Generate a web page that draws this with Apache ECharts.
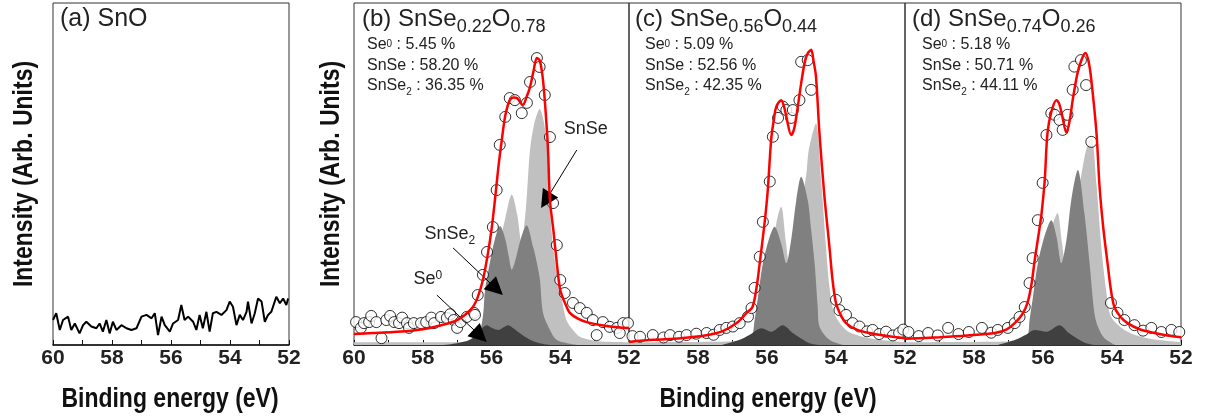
<!DOCTYPE html>
<html>
<head>
<meta charset="utf-8">
<script src="https://cdn.jsdelivr.net/npm/echarts@6/dist/echarts.min.js"></script>
<style>
  html, body { margin: 0; background: #fff; }
  #main { width: 1205px; height: 419px; }
</style>
</head>
<body>
<div id="main"></div>
<script>
// binding energy (eV), intensity (arb. units, 0..100 frame)
const snoLine = [[60,7.3],[59.89,9.3],[59.77,4.4],[59.66,7.3],[59.49,8.3],[59.38,4.4],[59.26,6.3],[59.1,3.4],[58.98,5.8],[58.87,6.8],[58.7,5.4],[58.53,4.9],[58.42,6.3],[58.31,3.9],[58.19,7.3],[58.08,3.4],[57.97,6.8],[57.85,4.4],[57.68,5.8],[57.51,4.9],[57.34,4.4],[57.17,4.9],[57.0,8.3],[56.83,8.8],[56.66,7.8],[56.55,9.3],[56.44,2.9],[56.32,8.3],[56.21,5.8],[56.04,3.9],[55.93,6.3],[55.76,7.3],[55.65,11.7],[55.54,7.3],[55.42,8.3],[55.25,6.8],[55.14,4.4],[55.03,8.8],[54.92,4.9],[54.8,9.7],[54.69,3.9],[54.58,9.3],[54.46,9.7],[54.29,8.8],[54.12,10.2],[54.01,12.7],[53.9,11.2],[53.78,5.8],[53.67,8.8],[53.56,7.3],[53.44,9.7],[53.39,12.7],[53.27,6.3],[53.16,9.3],[53.05,13.6],[52.93,12.7],[52.82,6.8],[52.71,8.8],[52.6,9.7],[52.43,14.1],[52.31,12.2],[52.2,13.6],[52.09,11.7],[52.03,13.6]];

// (b) SnSe0.22O0.78
const bData = [[59.94,6.7],[59.8,5.0],[59.71,6.4],[59.56,6.7],[59.5,8.5],[59.35,6.7],[59.2,2.0],[59.06,7.3],[58.95,8.5],[58.83,6.7],[58.69,6.4],[58.6,8.0],[58.46,6.4],[58.4,5.0],[58.26,6.4],[58.05,6.4],[57.9,6.7],[57.75,8.0],[57.67,6.4],[57.47,8.2],[57.3,7.9],[57.2,9.0],[57.1,7.3],[57.0,5.0],[56.9,6.7],[56.72,8.2],[56.51,9.4],[56.48,8.8],[56.4,14.6],[56.25,20.5],[56.13,27.2],[55.96,34.5],[55.85,45.3],[55.76,58.5],[55.6,66.7],[55.47,72.2],[55.32,71.6],[55.12,67.8],[54.97,70.8],[54.88,76.9],[54.68,83.9],[54.6,81.3],[54.45,73.1],[54.3,60.8],[54.21,41.5],[54.1,29.2],[54.0,19],[53.87,15.2],[53.63,12.3],[53.43,10.8],[53.23,9.4],[53.05,7.3],[52.94,2.9],[52.76,6.7],[52.56,5.3],[52.35,5.0],[52.27,3.5],[52.17,6.4],[52.03,6.4]];
const bFit = [[60,3.2],[59.45,3.5],[58.5,4.0],[57.8,5.0],[57.3,6.2],[57.0,7.3],[56.75,9.0],[56.54,11.1],[56.4,14],[56.25,19],[56.1,27],[55.99,34.5],[55.9,42.4],[55.8,52],[55.7,60],[55.6,67],[55.47,71.6],[55.36,72.4],[55.26,72.2],[55.09,70.2],[54.98,72.5],[54.88,75.4],[54.78,80],[54.68,83.9],[54.6,83.3],[54.52,79],[54.45,71.6],[54.36,57.9],[54.3,42.4],[54.2,33.6],[54.1,24],[54.0,16.1],[53.85,12],[53.72,9.4],[53.5,7.8],[53.23,6.7],[52.7,5.6],[52.06,5.0],[52,5.0]];
const bSnSe = [[60,0.8],[57.0,0.8],[56.6,1],[56.3,2],[56.1,6],[55.9,18],[55.75,30],[55.6,37],[55.41,44],[55.25,38],[55.13,30],[55.0,40],[54.88,57],[54.75,65],[54.6,69],[54.4,60],[54.3,40],[54.21,29],[54.1,21],[54.0,16],[53.82,7.3],[53.6,4],[53.43,2.4],[53.14,1.5],[52.8,1],[52,0.8]];
const bSnSe2 = [[56.7,0],[56.45,1.5],[56.34,3.5],[56.24,9.3],[56.19,16],[56.05,24],[55.9,31],[55.75,34.8],[55.6,31],[55.5,26],[55.41,22],[55.3,25],[55.15,31],[54.98,35],[54.79,28.7],[54.68,24],[54.59,19],[54.5,9.3],[54.3,4.4],[54.11,1.5],[53.8,0.5],[53.5,0]];
const bSe0 = [[57.4,0],[57.0,0.5],[56.63,1.5],[56.4,3.5],[56.14,5.8],[55.95,4.8],[55.8,4.4],[55.65,5.2],[55.51,5.8],[55.35,4.8],[55.17,3.4],[54.88,1.5],[54.6,0.5],[54.3,0]];

// (c) SnSe0.56O0.44
const cData = [[59.9,2.6],[59.68,2.4],[59.31,2.9],[59.0,2.2],[58.81,2.9],[58.55,2.4],[58.33,2.9],[58.05,3.3],[57.75,3.5],[57.55,3.0],[57.37,4.4],[57.18,5.0],[56.99,5.4],[56.79,6.4],[56.55,8.3],[56.45,10.8],[56.36,16.7],[56.21,25.8],[56.12,36.0],[55.92,47.8],[55.83,60.9],[55.68,66.4],[55.54,69.7],[55.44,68.7],[55.3,66.4],[55.25,68.7],[55.06,71.6],[55.01,82.8],[54.82,83.3],[54.72,74.6],[54.0,13.2],[53.9,10.2],[53.71,8.8],[53.52,6.4],[53.32,5.4],[53.1,4.0],[52.94,4.4],[52.75,3.2],[52.55,3.9],[52.35,2.8],[52.17,3.5],[52.05,4.5]];
const cFit = [[60,0.9],[59.3,1.5],[58.5,2.0],[57.8,2.8],[57.3,4.0],[56.88,6.4],[56.59,9.4],[56.42,11.1],[56.3,17],[56.21,24],[56.07,35.7],[55.98,45],[55.88,60],[55.8,66],[55.73,69.7],[55.59,71.6],[55.5,69.5],[55.44,66.8],[55.3,61.4],[55.22,63],[55.15,66.8],[55.01,76.5],[54.9,83],[54.82,85.3],[54.72,86.3],[54.65,83],[54.58,78.5],[54.48,62],[54.34,44],[54.19,28.7],[54.1,19],[54.0,12.3],[53.85,8.5],[53.71,6.4],[53.4,4.5],[53.03,3.5],[52.5,2.6],[52,2.0]];
const cSnSe = [[60,0.8],[57.0,1],[56.5,1.5],[56.2,4],[56.0,12],[55.85,25],[55.73,35.6],[55.59,40.4],[55.45,30],[55.35,24],[55.2,27],[55.05,38],[54.86,50],[54.79,57],[54.58,64.8],[54.43,48.2],[54.29,28.7],[54.19,17],[54.05,9.3],[53.71,4.4],[53.23,2.4],[52.75,1.5],[52.0,0.8]];
const cSnSe2 = [[56.7,0],[56.44,2.4],[56.36,7.3],[56.26,14.1],[56.12,23.9],[55.92,31.7],[55.78,34.6],[55.59,29.7],[55.44,23.9],[55.3,30.7],[55.15,42.4],[55.01,49.2],[54.82,42.4],[54.72,33.6],[54.62,23.9],[54.53,11.2],[54.48,5.4],[54.19,1.5],[53.8,0]];
const cSe0 = [[57.3,0],[56.79,1.5],[56.5,3],[56.16,4.9],[55.88,3.9],[55.54,5.8],[55.25,3.5],[54.95,1.5],[54.77,0.5],[54.5,0]];

// (d) SnSe0.74O0.26
const dData = [[59.9,3.8],[59.6,2.6],[59.33,3.5],[59.05,2.8],[58.75,5.0],[58.45,3.2],[58.15,3.8],[57.77,5.0],[57.5,3.6],[57.31,4.4],[57.02,5.0],[56.82,6.4],[56.68,8.2],[56.53,11.1],[56.39,18.1],[56.3,25.4],[56.15,36.5],[56.01,47.4],[55.9,61.4],[55.76,67.8],[55.66,67.3],[55.52,65.8],[55.43,62.9],[55.29,67.3],[55.14,74.6],[55.09,81.4],[54.9,83.3],[54.75,76.0],[54.6,59.4],[54.03,12.3],[53.84,9.4],[53.64,7.3],[53.35,5.8],[53.1,4.2],[52.86,5.0],[52.57,3.8],[52.28,4.4],[52.05,3.8]];
const dFit = [[60,1.8],[59,2.3],[58.2,2.8],[57.4,3.5],[57.05,4.6],[56.82,6.4],[56.6,9],[56.45,12.3],[56.33,18],[56.24,24.9],[56.14,31.5],[56.04,38.6],[55.95,48.2],[55.87,62],[55.75,68.5],[55.61,71.6],[55.53,70.5],[55.46,67.8],[55.32,62],[55.22,66],[55.14,71.6],[55.0,79.5],[54.88,83.5],[54.77,85.4],[54.68,83],[54.6,77.5],[54.45,62],[54.36,46.2],[54.25,34],[54.13,24],[54.03,16],[53.93,11.1],[53.75,8.2],[53.55,6.4],[53.2,4.6],[52.77,3.5],[52.4,2.8],[52,2.3]];
const dSnSe = [[60,0.8],[57.0,1],[56.5,1.5],[56.2,4],[56.0,12],[55.85,26],[55.72,35],[55.58,38.6],[55.45,30],[55.35,24],[55.2,28],[55.05,40],[54.85,52],[54.75,57],[54.6,60.9],[54.45,47],[54.31,28.7],[54.17,16],[54.03,8.3],[53.64,4.4],[53.16,2.4],[52.7,1.5],[52.0,0.8]];
const dSnSe2 = [[56.7,0],[56.45,2.4],[56.39,7.3],[56.29,14.1],[56.15,23.9],[55.95,32],[55.76,36.5],[55.61,31.7],[55.47,23.9],[55.32,30.7],[55.18,42.4],[54.99,51.2],[54.8,38.5],[54.65,23.9],[54.51,9.3],[54.41,5.4],[54.22,2],[53.9,0]];
const dSe0 = [[57.3,0],[56.8,1.5],[56.5,3],[56.24,4.4],[55.9,3.9],[55.52,5.8],[55.25,3.5],[54.95,1.5],[54.75,0.5],[54.5,0]];

const panels = [
  { data: bData, fit: bFit, snse: bSnSe, snse2: bSnSe2, se0: bSe0 },
  { data: cData, fit: cFit, snse: cSnSe, snse2: cSnSe2, se0: cSe0 },
  { data: dData, fit: dFit, snse: dSnSe, snse2: dSnSe2, se0: dSe0 }
];
const titles = [
  ['0.22', '0.78'], ['0.56', '0.44'], ['0.74', '0.26']
];
const stats = [
  ['5.45', '58.20', '36.35'], ['5.09', '52.56', '42.35'], ['5.18', '50.71', '44.11']
];

const plain = '"Liberation Sans", Arial, sans-serif';

const grids = [
  { left: 53, top: 3, width: 236, height: 342 },
  { left: 354, top: 3, width: 275, height: 342 },
  { left: 629, top: 3, width: 276, height: 342 },
  { left: 905, top: 3, width: 276, height: 342 }
].map(g => Object.assign(g, { show: true, borderColor: '#333', borderWidth: 1 }));

const xAxes = grids.map((g, i) => ({
  type: 'value', gridIndex: i, min: 52, max: 60, interval: 1, inverse: true,
  axisLine: { lineStyle: { color: '#111', width: 1.5 } },
  axisTick: { inside: true, length: 5, lineStyle: { color: '#111' } },
  splitLine: { show: false },
  axisLabel: {
    interval: 0, margin: 3, color: '#222', fontFamily: plain, fontWeight: 'bold', fontSize: 21,
    formatter: v => (v % 2 === 0 && !(i > 1 && v === 60)) ? String(v) : ''
  }
}));

const yAxes = grids.map((g, i) => ({
  type: 'value', gridIndex: i, min: 0, max: 100,
  axisLine: { show: false }, axisTick: { show: false }, axisLabel: { show: false },
  splitLine: { show: false }
}));

const series = [{
  type: 'line', xAxisIndex: 0, yAxisIndex: 0, data: snoLine, symbol: 'none',
  lineStyle: { color: '#000', width: 2 }
}];

const areaOf = (data, idx, color, z) => ({
  type: 'line', xAxisIndex: idx, yAxisIndex: idx, data: data, symbol: 'none', smooth: 0.3,
  lineStyle: { width: 0 }, areaStyle: { color: color, opacity: 1 }, z: z
});

panels.forEach((p, k) => {
  const idx = k + 1;
  series.push(areaOf(p.snse, idx, '#c0c0c0', 1));
  series.push(areaOf(p.snse2, idx, '#808080', 2));
  series.push(areaOf(p.se0, idx, '#404040', 3));
  series.push({
    type: 'scatter', xAxisIndex: idx, yAxisIndex: idx, data: p.data,
    symbol: 'circle', symbolSize: 11,
    itemStyle: { color: '#fff', borderColor: '#000', borderWidth: 1 }, z: 4
  });
  const fit = {
    type: 'line', xAxisIndex: idx, yAxisIndex: idx, data: p.fit, symbol: 'none', smooth: 0.3,
    lineStyle: { color: '#ff0000', width: 2.5 }, z: 5
  };
  if (k === 0) {
    fit.markLine = {
      silent: true, symbol: ['none', 'triangle'], symbolSize: 18,
      lineStyle: { color: '#000', width: 1, type: 'solid' }, label: { show: false },
      data: [
        [{ coord: [53.52, 57] }, { coord: [54.42, 42.3] }],
        [{ coord: [57.12, 28.4] }, { coord: [55.86, 16.4] }],
        [{ coord: [57.59, 14.6] }, { coord: [56.33, 2.7] }]
      ]
    };
    fit.markPoint = {
      silent: true, symbol: 'circle', symbolSize: 1, itemStyle: { color: 'rgba(0,0,0,0)' },
      label: {
        show: true, position: 'inside', color: '#222', fontFamily: plain, fontSize: 18,
        rich: {
          n: { fontFamily: plain, fontSize: 18, color: '#222', lineHeight: 20, verticalAlign: 'top' },
          sub: { fontFamily: plain, fontSize: 12, color: '#222', lineHeight: 12, verticalAlign: 'top', padding: [10, 0, 0, 0] },
          sup: { fontFamily: plain, fontSize: 12, color: '#222', lineHeight: 12, verticalAlign: 'top', padding: [0, 0, 0, 0] }
        }
      },
      data: [
        { coord: [53.26, 62.9], label: { formatter: '{n|SnSe}' } },
        { coord: [57.21, 32.2], label: { formatter: '{n|SnSe}{sub|2}' } },
        { coord: [57.85, 19.0], label: { formatter: '{n|Se}{sup|0}' } }
      ]
    };
  }
  series.push(fit);
});

const axisTitle = (text, x, y, rot) => ({
  type: 'text', x: x, y: y, rotation: rot, scaleY: 1.2,
  style: { text: text, font: 'bold 23px ' + plain, fill: '#111', align: 'center', verticalAlign: 'middle' }
});

const graphic = [
  { type: 'text', left: 60, top: 7, style: { text: '(a) SnO', font: '25px ' + plain, fill: '#222' } },
  axisTitle('Binding energy (eV)', 170, 399, 0),
  axisTitle('Binding energy (eV)', 768, 399, 0),
  axisTitle('Intensity (Arb. Units)', 24, 174, Math.PI / 2),
  axisTitle('Intensity (Arb. Units)', 331, 174, Math.PI / 2)
];
const titleX = [362, 635, 912];
const statX = [367, 645, 922];
titles.forEach((t, k) => {
  graphic.push({
    type: 'text', x: titleX[k], y: 7,
    style: {
      text: '{m|(' + 'bcd'[k] + ') SnSe}{s|' + t[0] + '}{m|O}{s|' + t[1] + '}',
      rich: {
        m: { font: '24px ' + plain, fill: '#222', lineHeight: 26, verticalAlign: 'top' },
        s: { font: '18px ' + plain, fill: '#222', lineHeight: 18, verticalAlign: 'top', padding: [11, 0, 0, 0] }
      }
    }
  });
  const st = stats[k];
  graphic.push({
    type: 'text', x: statX[k], y: 37,
    style: {
      text: '{n|Se}{sup|0}{n| : ' + st[0] + ' %}\n{n|SnSe : ' + st[1] + ' %}\n{n|SnSe}{sub|2}{n| : ' + st[2] + ' %}',
      rich: {
        n: { font: '16px ' + plain, fill: '#222', lineHeight: 20.5, verticalAlign: 'top' },
        sup: { font: '10px ' + plain, fill: '#222', lineHeight: 10, verticalAlign: 'top', padding: [2, 0, 0, 0] },
        sub: { font: '10px ' + plain, fill: '#222', lineHeight: 10, verticalAlign: 'top', padding: [9, 0, 0, 0] }
      }
    }
  });
});

const chart = echarts.init(document.getElementById('main'));
chart.setOption({
  animation: false,
  backgroundColor: '#fff',
  grid: grids,
  xAxis: xAxes,
  yAxis: yAxes,
  series: series,
  graphic: graphic
});
</script>
</body>
</html>
